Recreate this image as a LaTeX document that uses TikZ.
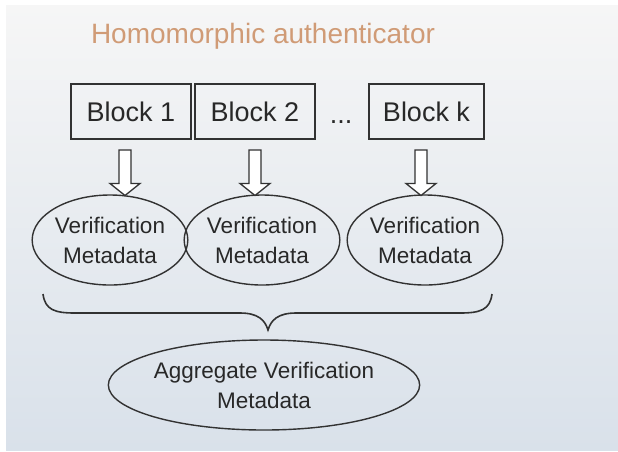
\documentclass[tikz,border=0pt]{standalone}
\usepackage{fontspec}
\setmainfont{Liberation Sans}
\usetikzlibrary{shapes.geometric,calc}
\definecolor{bgtop}{RGB}{246,246,246}
\definecolor{bgbot}{RGB}{217,225,234}
\definecolor{titlecol}{RGB}{208,155,118}
\definecolor{ink}{RGB}{40,40,40}
\definecolor{linec}{RGB}{50,50,50}
\tikzset{
  blockbox/.style={draw=linec, line width=1.5pt, minimum height=55pt, inner sep=0pt,
    font=\fontsize{27}{30}\selectfont, text=ink},
  vmeta/.style={ellipse, draw=linec, line width=1.4pt, minimum width=155pt, minimum height=90pt,
    inner sep=0pt, align=center, font=\fontsize{22.5}{30}\selectfont, text=ink},
  hollowarrow/.style={draw=linec, line width=1.3pt, fill=white, line join=miter},
  bracestyle/.style={draw=linec, line width=1.6pt},
}
\begin{document}
\begin{tikzpicture}[x=1pt,y=-1pt]
\useasboundingbox (0,0) rectangle (618,451);
\fill[white] (0,0) rectangle (618,451);
\shade[top color=bgtop, bottom color=bgbot] (6,5) rectangle (618,450);
\node[text=titlecol, font=\fontsize{28}{32}\selectfont] (title) at (263,36) {Homomorphic authenticator};
% blocks
\node[blockbox, minimum width=120pt] (b1) at (131,111.5) {Block 1};
\node[blockbox, minimum width=120pt] (b2) at (255,111.5) {Block 2};
\node[text=ink, font=\fontsize{27}{30}\selectfont, anchor=base, inner sep=0pt] (dots) at (341,123) {...};
\node[blockbox, minimum width=115pt] (bk) at (426.5,111.5) {Block k};
% verification metadata ellipses
\node[vmeta] (v1) at (110,240) {Verification\\Metadata};
\node[vmeta] (v2) at (262,240) {Verification\\Metadata};
\node[vmeta] (vk) at (425,240) {Verification\\Metadata};
% aggregate
\node[vmeta, minimum width=308pt, minimum height=90pt] (agg) at (264,385) {Aggregate Verification\\Metadata};
% hollow block arrows
\foreach \b/\v/\x in {b1/v1/125, b2/v2/255, bk/vk/421}{
  \coordinate (s) at (\x,150);
  \coordinate (t) at (\x,195.5);
  \draw[hollowarrow] ($(s)+(-6,0)$) -- ($(s)+(6,0)$) -- ($(t)+(6,-12)$) -- ($(t)+(15,-12)$)
    -- (t) -- ($(t)+(-15,-12)$) -- ($(t)+(-6,-12)$) -- cycle;
}
% brace
\coordinate (bl) at (43,294);
\coordinate (br) at (492,294);
\coordinate (btip) at (268,330);
\draw[bracestyle] (bl) .. controls (45,310) and (55,313) .. (75,313)
  -- (240,313) .. controls (258,313) and (265,320) .. (btip)
  .. controls (271,320) and (278,313) .. (296,313)
  -- (460,313) .. controls (480,313) and (490,310) .. (br);
\end{tikzpicture}
\end{document}
